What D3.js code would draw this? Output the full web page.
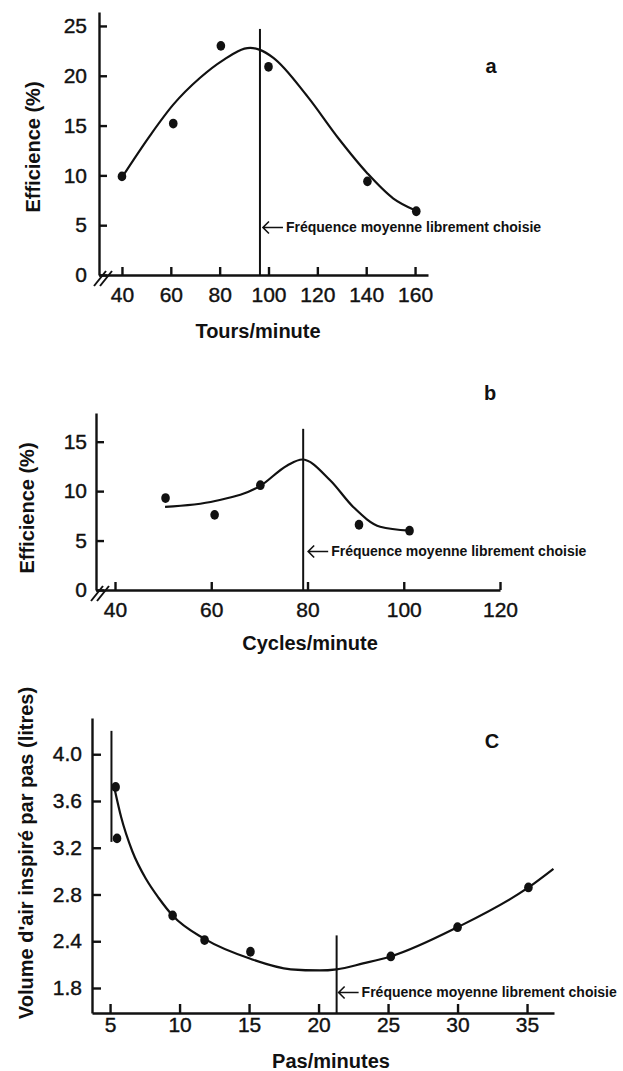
<html>
<head>
<meta charset="utf-8">
<script src="https://d3js.org/d3.v7.min.js"></script>
<style>
body { margin: 0; background: #fff; }
text { font-family: "Liberation Sans", Arial, sans-serif; fill: #111; }
</style>
</head>
<body>
<div id="chart"></div>
<script>
// ---- panel a : efficience vs tours/minute
var aTicksX = [40, 60, 80, 100, 120, 140, 160]
var aTicksY = [0, 5, 10, 15, 20, 25]
var aPointsX = [40, 61, 80.5, 100, 140.5, 160.5]
var aPointsY = [9.9, 15.2, 23, 20.9, 9.4, 6.4]
var aCurveX = [40, 51.5, 61, 72, 81, 92.5, 96.5, 102, 116, 129, 140.5, 151, 160]
var aCurveY = [9.8, 14.0, 17.1, 19.8, 21.5, 22.8, 22.6, 21.8, 17.9, 13.6, 10.2, 7.7, 6.5]
var aFreq = 96.5

// ---- panel b : efficience vs cycles/minute
var bTicksX = [40, 60, 80, 100, 120]
var bTicksY = [0, 5, 10, 15]
var bPointsX = [50.5, 60.7, 70.2, 90.7, 101.2]
var bPointsY = [9.3, 7.6, 10.6, 6.6, 6.0]
var bCurveX = [50.4, 60.8, 70.1, 75.8, 78.9, 84.7, 89.5, 95.1, 101.2]
var bCurveY = [8.4, 9.0, 10.5, 12.6, 13.2, 11.1, 8.4, 6.4, 6.0]
var bFreq = 79.1

// ---- panel c : volume d'air vs pas/minutes
var cTicksX = [5, 10, 15, 20, 25, 30, 35]
var cTicksY = [2.0, 2.4, 2.8, 3.2, 3.6, 4.0]
var cTickLabelsY = ["1.8", "2.4", "2.8", "3.2", "3.6", "4.0"]
var cPointsX = [5.4, 5.5, 9.5, 11.8, 15.1, 25.2, 30.0, 35.1]
var cPointsY = [3.72, 3.28, 2.62, 2.41, 2.31, 2.27, 2.52, 2.86]
var cCurveX = [5.35, 5.8, 6.6, 7.6, 8.5, 9.5, 11.8, 15.1, 18, 20.1, 21.3, 23.2, 25.2, 30, 35.1, 36.9]
var cCurveY = [3.69, 3.46, 3.17, 2.93, 2.77, 2.62, 2.42, 2.25, 2.16, 2.15, 2.16, 2.21, 2.27, 2.52, 2.86, 3.02]
var cFreq = 21.3
var cMarkX = 5.1
var cMarkY = [3.25, 4.2]

var noteText = "Fréquence moyenne librement choisie"

var svg = d3.select("#chart").append("svg")
	.attr("width", 623)
	.attr("height", 1071)

function drawPanel(p) {
	var g = svg.append("g")
	var x = d3.scaleLinear().domain(p.xDomain).range(p.xRange)
	var y = d3.scaleLinear().domain(p.yDomain).range(p.yRange)

	var xAxis = d3.axisBottom(x).tickValues(p.ticksX).tickSize(-p.tick).tickSizeOuter(0).tickPadding(p.padX)
	var yAxis = d3.axisLeft(y).tickValues(p.ticksY).tickSize(-p.tick).tickSizeOuter(0).tickPadding(p.padY)
	if (p.labelsY) yAxis.tickFormat(function(d, i) { return p.labelsY[i] })

	var gx = g.append("g").attr("transform", "translate(0," + p.yRange[0] + ")").call(xAxis)
	var gy = g.append("g").attr("transform", "translate(" + p.xRange[0] + ",0)").call(yAxis)
	;[gx, gy].forEach(function(a) {
		a.attr("font-family", null).attr("font-size", null)
		a.selectAll("path, line").attr("stroke", "#111").attr("stroke-width", 2.4)
		a.selectAll("text").style("font-size", "21px").attr("fill", "#111")
			.attr("stroke", "#111").attr("stroke-width", 0.4)
	})

	// axis break
	if (p.brk) {
		var ox = p.xRange[0], oy = p.yRange[0]
		;[0, 6].forEach(function(d) {
			g.append("line")
				.attr("x1", ox - 5 + d).attr("y1", oy + 11)
				.attr("x2", ox + 7 + d).attr("y2", oy - 4)
				.attr("stroke", "#111").attr("stroke-width", 2)
		})
	}

	// curve
	var line = d3.line()
		.x(function(d) { return x(d[0]) })
		.y(function(d) { return y(d[1]) })
		.curve(d3.curveMonotoneX)
	g.append("path")
		.datum(d3.zip(p.curveX, p.curveY))
		.attr("d", line)
		.attr("fill", "none")
		.attr("stroke", "#111")
		.attr("stroke-width", 2.2)

	// points
	g.selectAll(".pt")
		.data(d3.zip(p.pointsX, p.pointsY))
		.enter()
		.append("ellipse")
		.attr("cx", function(d) { return x(d[0]) })
		.attr("cy", function(d) { return y(d[1]) })
		.attr("rx", 4.3)
		.attr("ry", 4.9)
		.attr("fill", "#111")

	// chosen frequency
	g.append("line")
		.attr("x1", x(p.freq)).attr("x2", x(p.freq))
		.attr("y1", y(p.freqTop)).attr("y2", p.yRange[0])
		.attr("stroke", "#111").attr("stroke-width", 2)

	var ax = x(p.freq) + p.arrowGap, ay = p.noteY - 4.5
	g.append("path")
		.attr("d", "M" + (ax + 20) + "," + ay + "H" + ax + "M" + (ax + 6) + "," + (ay - 6) + "L" + ax + "," + ay + "L" + (ax + 6) + "," + (ay + 6))
		.attr("fill", "none").attr("stroke", "#111").attr("stroke-width", 1.6)
	g.append("text")
		.attr("x", ax + 23).attr("y", p.noteY)
		.style("font-size", "14px").style("font-weight", "bold")
		.text(noteText)

	if (p.mark) {
		g.append("line")
			.attr("x1", x(p.mark[0])).attr("x2", x(p.mark[0]))
			.attr("y1", y(p.mark[1][0])).attr("y2", y(p.mark[1][1]))
			.attr("stroke", "#111").attr("stroke-width", 2)
	}

	// titles
	g.append("text")
		.attr("x", p.titleX[0]).attr("y", p.titleX[1])
		.attr("text-anchor", "middle")
		.style("font-size", "20px").style("font-weight", "bold")
		.text(p.xTitle)
	g.append("text")
		.attr("transform", "translate(" + p.titleY[0] + "," + p.titleY[1] + ") rotate(-90)")
		.attr("text-anchor", "middle")
		.style("font-size", "20px").style("font-weight", "bold")
		.text(p.yTitle)
	g.append("text")
		.attr("x", p.letter[1]).attr("y", p.letter[2])
		.attr("text-anchor", "middle")
		.style("font-size", "20px").style("font-weight", "bold")
		.text(p.letter[0])
}

drawPanel({
	xDomain: [30.6, 165.3], xRange: [99, 428],
	yDomain: [0, 26.4], yRange: [275, 12],
	ticksX: aTicksX, ticksY: aTicksY, tick: 8, padX: 12, padY: 12,
	pointsX: aPointsX, pointsY: aPointsY, curveX: aCurveX, curveY: aCurveY,
	freq: aFreq, freqTop: 24.7, arrowGap: 3, noteY: 232, brk: true,
	xTitle: "Tours/minute", titleX: [258, 338],
	yTitle: "Efficience (%)", titleY: [40, 147],
	letter: ["a", 491, 73]
})

drawPanel({
	xDomain: [36.05, 120], xRange: [96, 500],
	yDomain: [0, 17.9], yRange: [590, 413],
	ticksX: bTicksX, ticksY: bTicksY, tick: 8, padX: 12, padY: 9,
	pointsX: bPointsX, pointsY: bPointsY, curveX: bCurveX, curveY: bCurveY,
	freq: bFreq, freqTop: 16.3, arrowGap: 5, noteY: 556, brk: true,
	xTitle: "Cycles/minute", titleX: [310, 650],
	yTitle: "Efficience (%)", titleY: [34, 508],
	letter: ["b", 490, 400]
})

drawPanel({
	xDomain: [3.7, 36.94], xRange: [92, 554],
	yDomain: [1.786, 4.31], yRange: [1013, 718],
	ticksX: cTicksX, ticksY: cTicksY, labelsY: cTickLabelsY, tick: 9, padX: 4, padY: 10,
	pointsX: cPointsX, pointsY: cPointsY, curveX: cCurveX, curveY: cCurveY,
	freq: cFreq, freqTop: 2.45, arrowGap: 2, noteY: 997, brk: false,
	mark: [cMarkX, cMarkY],
	xTitle: "Pas/minutes", titleX: [331, 1068],
	yTitle: "Volume d'air inspiré par pas (litres)", titleY: [33, 853],
	letter: ["C", 492, 748]
})
</script>
</body>
</html>
